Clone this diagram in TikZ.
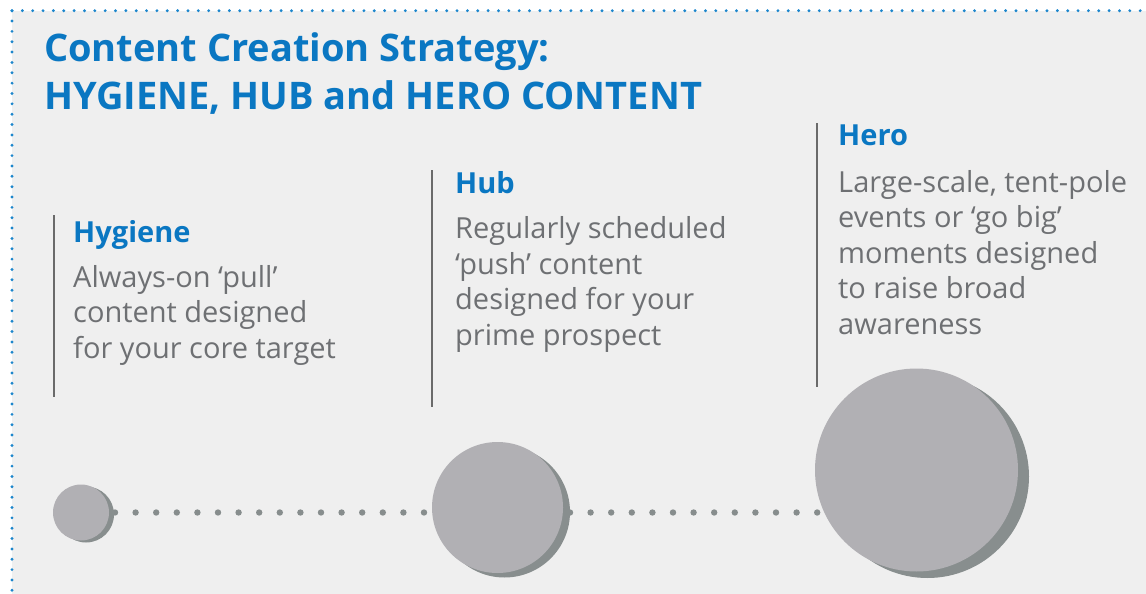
\documentclass[tikz,border=0pt]{standalone}
\usepackage{fontspec}
\setmainfont{Open Sans}
\usetikzlibrary{shadows}

\definecolor{pagebg}{HTML}{EFEFEF}
\definecolor{brandblue}{HTML}{0A77C2}
\definecolor{edgeblue}{HTML}{1C86CC}
\definecolor{bodygray}{HTML}{6E7073}
\definecolor{rulegray}{HTML}{6A6A6A}
\definecolor{diskface}{HTML}{B1B0B4}
\definecolor{diskshade}{HTML}{888E8E}
\definecolor{dotgray}{HTML}{878D8D}

% multi-line nodes below are placed by the baseline of their last line
\tikzset{
  title/.style={anchor=base west, inner sep=0pt, align=left, text=brandblue,
    font=\fontsize{38}{48}\selectfont\bfseries},
  heading/.style={anchor=base west, inner sep=0pt, text=brandblue,
    font=\fontsize{29}{35}\selectfont\bfseries},
  body/.style={anchor=base west, inner sep=0pt, align=left, text=bodygray,
    font=\fontsize{29}{35.5}\selectfont},
  divider/.style={draw=rulegray, line width=1.5pt},
  disk/.style n args={3}{circle, inner sep=0pt, minimum size=#1, fill=diskface,
    drop shadow={shadow xshift=#2, shadow yshift=#3, fill=diskshade, opacity=1}},
  dotrow/.style={draw=dotgray, line width=6.4pt, line cap=round,
    dash pattern=on 0pt off 20.6pt},
  border/.style={draw=edgeblue, line width=3.2pt, line cap=round,
    dash pattern=on 0pt off 10.35pt},
}

\begin{document}
\begin{tikzpicture}[x=1pt, y=-1pt]
  \useasboundingbox (0,0) rectangle (1146,594);

  % panel background and its dotted top and left edges
  \fill[pagebg] (12,10.7) rectangle (1146,594);
  \coordinate (corner) at (12,10.7);
  \coordinate (topend) at (1146,10.7);
  \coordinate (leftend) at (12,594);
  \draw[border] (corner) -- (topend);
  \draw[border] (corner) -- (leftend);

  % title
  \node[title] (ttl) at (44,110) {Content Creation Strategy:\\HYGIENE, HUB and HERO CONTENT};

  % the three disks
  \coordinate (hygc) at (81,512.5);
  \coordinate (hubc) at (497.5,507.5);
  \coordinate (heroc) at (916.5,470);

  % dotted links between the disks (drawn first, they pass behind)
  \draw[dotrow] ([xshift=34pt]hygc) -- ([xshift=-71.5pt]hubc |- hygc);
  \draw[dotrow] ([xshift=72.5pt]hubc |- hygc) -- ([xshift=-98pt]heroc |- hygc);

  \node[disk={56pt}{5pt}{-2pt}] (hyg) at (hygc) {};
  \node[disk={131pt}{7pt}{-4.5pt}] (hub) at (hubc) {};
  \node[disk={203pt}{11pt}{-6.5pt}] (hero) at (heroc) {};

  % dividers
  \coordinate (hygtop) at (54,215);  \coordinate (hygbot) at (54,397);
  \coordinate (hubtop) at (432,170); \coordinate (hubbot) at (432,407);
  \coordinate (herotop) at (817,123); \coordinate (herobot) at (817,387);
  \draw[divider] (hygtop) -- (hygbot);
  \draw[divider] (hubtop) -- (hubbot);
  \draw[divider] (herotop) -- (herobot);

  % Hygiene
  \node[heading] (hygh) at (73,242) {Hygiene};
  \node[body] (hygt) at (73,358) {Always-on ‘pull’\\content designed\\for your core target};

  % Hub
  \node[heading] (hubh) at (455,193) {Hub};
  \node[body] (hubt) at (455,345) {Regularly scheduled\\‘push’ content\\designed for your\\prime prospect};

  % Hero
  \node[heading] (heroh) at (838,145) {Hero};
  \node[body] (herot) at (838,334) {Large-scale, tent-pole\\events or ‘go big’\\moments designed\\to raise broad\\awareness};
\end{tikzpicture}
\end{document}
